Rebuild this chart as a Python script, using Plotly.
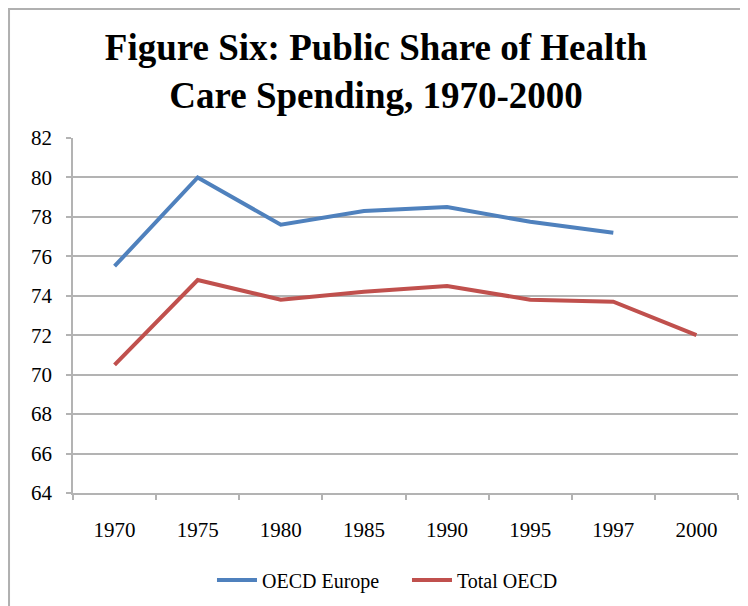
import plotly.graph_objects as go

years = ["1970", "1975", "1980", "1985", "1990", "1995", "1997", "2000"]
oecd_europe = [75.5, 80.0, 77.6, 78.3, 78.5, 77.75, 77.2, None]
total_oecd = [70.5, 74.8, 73.8, 74.2, 74.5, 73.8, 73.7, 72.0]
y_ticks = [64, 66, 68, 70, 72, 74, 76, 78, 80, 82]

SERIF = "Liberation Serif, Times New Roman, serif"
GRID = "#b3b3b3"

fig = go.Figure()
fig.add_trace(go.Scatter(x=years, y=oecd_europe, name="OECD Europe", mode="lines",
                         line=dict(color="#4F81BD", width=4)))
fig.add_trace(go.Scatter(x=years, y=total_oecd, name="Total OECD", mode="lines",
                         line=dict(color="#C0504D", width=4)))

fig.update_layout(
    width=748, height=606,
    margin=dict(l=65, r=18, t=130, b=121, autoexpand=False),
    paper_bgcolor="white", plot_bgcolor="white",
    title=dict(text="Figure Six: Public Share of Health<br>Care Spending, 1970-2000",
               x=0.492, xanchor="center", y=0.914, yanchor="middle", yref="container",
               font=dict(family=SERIF, size=37, color="black", weight="bold")),
    font=dict(family=SERIF, size=21, color="black"),
    showlegend=True,
    legend=dict(orientation="h", x=0.209, xanchor="left", y=-0.245, yanchor="middle",
                font=dict(family=SERIF, size=20, color="black"), itemwidth=40,
                entrywidth=140, entrywidthmode="pixels"),
    xaxis=dict(type="category", categoryorder="array", categoryarray=years,
               range=[-0.5, 7.5],
               showgrid=False, showline=True, linecolor=GRID, linewidth=1.5,
               ticks="outside", tickson="boundaries", ticklen=5, tickcolor=GRID,
               tickwidth=1.5, tickfont=dict(family=SERIF, size=21), ticklabelstandoff=17),
    yaxis=dict(range=[64, 82], tickvals=y_ticks, showgrid=True, gridcolor=GRID,
               gridwidth=1.5, showline=True, linecolor=GRID, linewidth=1.5,
               ticks="outside", ticklen=5, tickcolor=GRID, tickwidth=1.5,
               tickfont=dict(family=SERIF, size=21), zeroline=False, ticklabelstandoff=10),
)

# outer chart frame
fig.add_shape(type="rect", xref="paper", yref="paper",
              x0=-0.0962, x1=1.1, y0=-0.4, y1=1.3634,
              line=dict(color="#b0b0b0", width=2), layer="below")

fig.write_html("out.html")
